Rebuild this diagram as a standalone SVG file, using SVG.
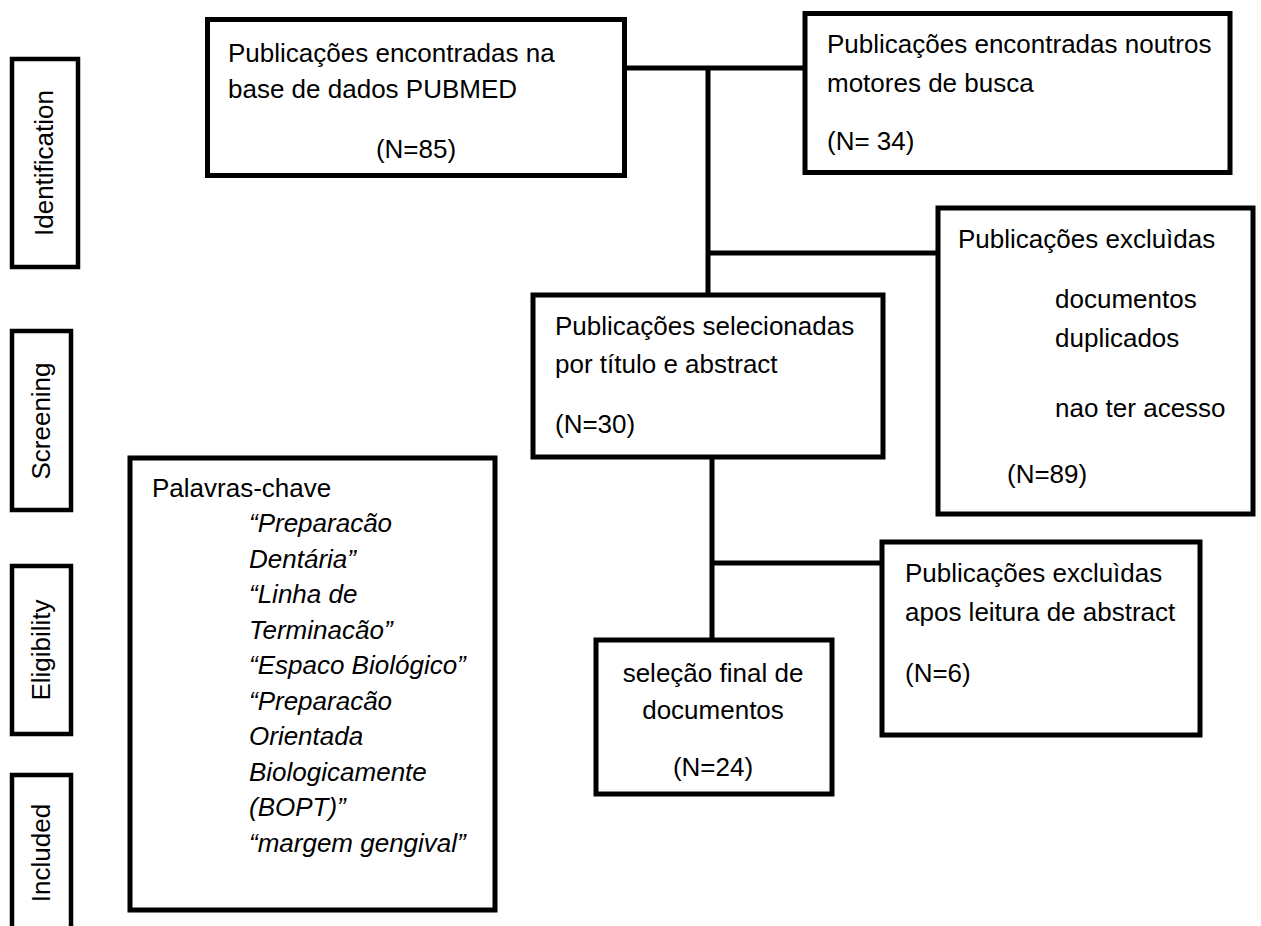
<svg xmlns="http://www.w3.org/2000/svg" width="1261" height="926" viewBox="0 0 1261 926">
<style>
.box{fill:#fff;stroke:#000;stroke-width:5}
.lbl{fill:#fff;stroke:#000;stroke-width:4.5}
.t{font-family:"Liberation Sans",Arial,sans-serif;font-size:26px;fill:#000}
.i{font-style:italic}
.m{text-anchor:middle}
.c{stroke:#000;stroke-width:5;fill:none}
</style>
<rect width="1261" height="926" fill="#fff"/>
<g id="connectors">
<line class="c" x1="625" y1="68" x2="805" y2="68"/>
<line class="c" x1="708" y1="68" x2="708" y2="295"/>
<line class="c" x1="708" y1="253" x2="938" y2="253"/>
<line class="c" x1="712" y1="457" x2="712" y2="640"/>
<line class="c" x1="712" y1="563" x2="882" y2="563"/>
</g>
<g id="identification">
<rect class="lbl" x="12" y="59" width="66" height="208"/>
<text class="t m" transform="translate(53,163) rotate(-90)">Identification</text>
</g>
<g id="screening">
<rect class="lbl" x="12" y="331" width="59" height="179"/>
<text class="t m" transform="translate(50,421) rotate(-90)">Screening</text>
</g>
<g id="eligibility">
<rect class="lbl" x="12" y="566" width="59" height="168"/>
<text class="t m" transform="translate(50,650) rotate(-90)">Eligibility</text>
</g>
<g id="included">
<rect class="lbl" x="12" y="775" width="59" height="170"/>
<text class="t m" transform="translate(50,853) rotate(-90)">Included</text>
</g>
<g id="pubmed">
<rect class="box" x="207.5" y="19.5" width="417" height="156"/>
<text class="t" x="228" y="62">Publicações encontradas na</text>
<text class="t" x="228" y="98">base de dados PUBMED</text>
<text class="t m" x="416" y="158">(N=85)</text>
</g>
<g id="noutros">
<rect class="box" x="805" y="13.5" width="425" height="159"/>
<text class="t" x="827" y="53">Publicações encontradas noutros</text>
<text class="t" x="827" y="92">motores de busca</text>
<text class="t" x="827" y="150">(N= 34)</text>
</g>
<g id="excluidas1">
<rect class="box" x="938" y="208" width="315" height="306"/>
<text class="t" x="958" y="248">Publicações excluìdas</text>
<text class="t" x="1055" y="308">documentos</text>
<text class="t" x="1055" y="347">duplicados</text>
<text class="t" x="1055" y="417">nao ter acesso</text>
<text class="t" x="1007" y="483">(N=89)</text>
</g>
<g id="selecionadas">
<rect class="box" x="533" y="295" width="350" height="162"/>
<text class="t" x="555" y="335">Publicações selecionadas</text>
<text class="t" x="555" y="373">por título e abstract</text>
<text class="t" x="555" y="433">(N=30)</text>
</g>
<g id="palavras">
<rect class="box" x="130" y="458" width="365" height="452"/>
<text class="t" x="152" y="497">Palavras-chave</text>
<text class="t i" x="249" y="532">“Preparacão</text>
<text class="t i" x="249" y="567.5">Dentária”</text>
<text class="t i" x="249" y="603">“Linha de</text>
<text class="t i" x="249" y="638.5">Terminacão”</text>
<text class="t i" x="249" y="674">“Espaco Biológico”</text>
<text class="t i" x="249" y="709.5">“Preparacão</text>
<text class="t i" x="249" y="745">Orientada</text>
<text class="t i" x="249" y="780.5">Biologicamente</text>
<text class="t i" x="249" y="816">(BOPT)”</text>
<text class="t i" x="249" y="851.5">“margem gengival”</text>
</g>
<g id="excluidas2">
<rect class="box" x="882" y="542" width="318" height="193"/>
<text class="t" x="905" y="582">Publicações excluìdas</text>
<text class="t" x="905" y="621">apos leitura de abstract</text>
<text class="t" x="905" y="682">(N=6)</text>
</g>
<g id="selecao">
<rect class="box" x="596" y="640" width="236" height="154"/>
<text class="t m" x="713" y="682">seleção final de</text>
<text class="t m" x="713" y="719">documentos</text>
<text class="t m" x="713" y="776">(N=24)</text>
</g>
</svg>
